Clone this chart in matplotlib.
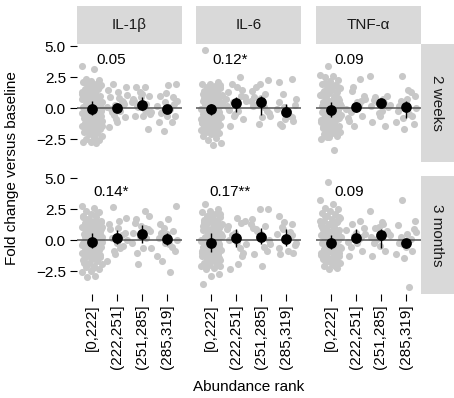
import matplotlib
matplotlib.use("Agg")
import matplotlib.pyplot as plt
import numpy as np

plt.rcParams['font.family'] = ['Liberation Sans', 'DejaVu Sans']

# categories and facets
ranks = ['[0,222]', '(222,251]', '(251,285]', '(285,319]']
cytokines = ['IL-1\u03b2', 'IL-6', 'TNF-\u03b1']
times = ['2 weeks', '3 months']

# correlation labels per panel
corr_2w = ['0.05', '0.12*', '0.09']
corr_3m = ['0.14*', '0.17**', '0.09']

# individual fold changes, 2 weeks
il1_2w = [
    [3.4, 3.2, 2.4, 2.3, 2.2, 2.1, 2.0, 1.9, 1.85, 1.7, 1.6, 1.55, 1.4, 1.3, 1.25, 1.1, 1.0, 0.95, 0.8, 0.7,
     0.65, 0.5, 0.45, 0.35, 0.3, 0.2, 0.1, 0.05, 0.0, -0.05, -0.1, -0.2, -0.3, -0.35, -0.4, -0.5, -0.55, -0.65,
     -0.7, -0.8, -0.9, -0.95, -1.0, -1.1, -1.2, -1.3, -1.35, -1.45, -1.5, -1.6, -1.7, -1.8, -1.9, -2.0, -2.1,
     -2.2, -2.3, -2.45, -2.6, -2.7, -2.75, -2.8, 0.6, -0.6, 1.2, -1.25, 1.95, 1.45, 1.15, 0.85, 0.55, 0.25,
     -0.15, -0.45, -0.75, -1.05, -1.4, -1.75, 2.05, 1.75, 1.35, 0.9, 0.4, 0.0, -0.25, -0.85, -1.15, -1.55,
     -1.95, 0.75, 1.05, -0.35, 0.15, -2.65],
    [2.0, 1.7, 1.35, 0.9, 0.5, 0.3, 0.1, -0.2, -0.3, -0.7, -1.1, -1.5, 0.6, -0.5, 1.1, 0.8, -0.05, 0.35,
     -0.9, 1.5],
    [1.75, 1.75, 1.0, 0.9, 0.75, 0.35, 0.1, -0.3, -0.6, -0.6, -1.65, 1.3, 0.5, -0.1, 0.2, -0.45, 1.15,
     0.6, -0.2],
    [1.95, 1.85, 1.0, 0.9, 0.5, 0.2, -0.05, -0.3, -0.6, -0.6, -1.1, -1.1, -1.8, 0.6, 0.1, -0.4, 0.35, 1.2],
]
il6_2w = [
    [4.75, 2.1, 2.0, 1.95, 1.8, 1.7, 1.65, 1.5, 1.4, 1.35, 1.2, 1.1, 1.05, 0.9, 0.8, 0.75, 0.6, 0.5, 0.45, 0.3,
     0.2, 0.15, 0.05, 0.0, -0.05, -0.15, -0.2, -0.3, -0.4, -0.45, -0.55, -0.6, -0.7, -0.8, -0.85, -0.95, -1.0,
     -1.1, -1.2, -1.25, -1.35, -1.4, -1.5, -1.6, -1.7, -1.75, -1.85, -1.9, -2.0, -2.1, -2.2, -2.4, -2.6, -2.8,
     -2.95, 0.35, -0.35, 1.0, -1.05, 0.65, -0.65, 1.9, 1.55, 1.25, 0.95, 0.7, 0.4, 0.1, -0.1, -0.5, -0.75,
     -1.15, -1.45, -1.8, 1.75, 1.45, 0.85, 0.25, -0.25, -0.9, -1.3, -1.65, 0.55, -0.05, 1.15, -2.05],
    [1.7, 1.3, 1.0, 0.5, 0.6, -0.2, -1.4, -0.85, -0.45, 0.2, 2.5, 2.0, 0.9, 0.3, -0.1, 1.5, -0.6, 0.75],
    [2.3, 2.0, 1.4, 1.15, 0.35, -0.6, -0.7, 0.9, -0.2, -1.25, 0.6, 0.1, 1.7, -0.4, 0.8, 0.2],
    [2.1, 2.35, 1.15, 0.75, -0.2, -1.25, -1.0, -0.85, -0.05, -0.6, -1.4, 0.3, -0.35, 0.5, -0.7, 0.1],
]
tnf_2w = [
    [3.45, 2.7, 2.6, 2.5, 2.3, 2.2, 2.0, 1.9, 1.8, 1.65, 1.5, 1.4, 1.3, 1.2, 1.05, 0.95, 0.85, 0.7, 0.6, 0.5,
     0.4, 0.3, 0.2, 0.1, 0.0, -0.1, -0.2, -0.3, -0.4, -0.5, -0.6, -0.7, -0.8, -0.9, -1.0, -1.1, -1.2, -1.3,
     -1.4, -1.5, -1.6, -1.7, -1.8, -1.9, -2.0, -2.1, -2.2, -2.35, -2.5, -3.4, 0.75, -0.75, 1.6, -1.55, 0.25,
     -0.25, 1.1, -1.05, 2.05, 1.75, 1.45, 1.15, 0.9, 0.65, 0.35, 0.05, -0.15, -0.45, -0.65, -0.95, -1.25,
     -1.65, -1.95, 1.85, 1.25, 0.55, -0.05, -0.55, -0.85, -1.35, 0.8, -0.35, 0.15, 1.0, -2.3],
    [2.35, 1.4, 0.75, 0.5, -1.0, -0.6, -1.4, -0.05, 0.3, -0.3, 1.0, 0.15, -0.8, 0.6, 1.7],
    [2.6, 0.75, 0.9, 0.1, -0.6, -1.1, -1.4, 0.5, 0.3, -0.2, 0.65, 1.0, -0.4, 0.2, 0.45],
    [2.65, 1.0, 0.75, 0.2, -0.6, -1.65, -1.1, -0.45, 0.6, -1.25, 0.4, -0.2, 1.3, -0.8, 0.0, 1.5],
]

# individual fold changes, 3 months
il1_3m = [
    [2.75, 2.6, 2.4, 2.25, 2.1, 2.0, 1.9, 1.75, 1.6, 1.5, 1.4, 1.25, 1.15, 1.05, 0.95, 0.85, 0.75, 0.65, 0.55,
     0.45, 0.35, 0.25, 0.15, 0.05, -0.05, -0.15, -0.25, -0.35, -0.45, -0.55, -0.65, -0.75, -0.85, -0.95, -1.05,
     -1.15, -1.25, -1.35, -1.45, -1.55, -1.7, -1.8, -1.9, -2.05, -2.15, -2.3, -2.45, -2.6, -2.9, -3.0, 0.5,
     -0.5, 1.0, -1.0, 0.1, -0.1, 1.3, -1.3, 0.7, -0.7, 1.85, 1.55, 1.2, 0.9, 0.6, 0.3, 0.0, -0.2, -0.4,
     -0.6, -0.9, -1.2, -1.5, -1.85, 2.2, 1.7, 1.1, 0.4, -0.3, -0.8, -1.1, -1.6, 0.8, -0.05, 1.45, -2.2],
    [2.7, 1.8, 1.0, 0.9, -0.45, -1.1, -1.65, -0.6, 0.2, 0.6, -0.2, 1.3, 0.4, -0.9, 0.0, 1.55],
    [2.35, 1.7, 1.95, 1.15, 0.6, 0.2, -1.95, -0.6, -0.6, 1.4, 0.9, 0.35, -0.2, 1.0, -1.0, 0.75],
    [2.75, 1.75, 1.3, 0.75, -0.2, -1.25, -2.6, -1.65, -0.85, 0.5, 0.2, -0.5, 1.0, 0.0, -0.3, 0.6],
]
il6_3m = [
    [2.9, 2.55, 2.4, 2.3, 2.15, 2.0, 1.9, 1.8, 1.65, 1.55, 1.45, 1.3, 1.2, 1.1, 1.0, 0.9, 0.8, 0.7, 0.6, 0.5,
     0.4, 0.3, 0.2, 0.1, 0.0, -0.1, -0.2, -0.3, -0.4, -0.5, -0.6, -0.7, -0.8, -0.9, -1.0, -1.1, -1.2, -1.3,
     -1.4, -1.5, -1.6, -1.7, -1.8, -1.9, -2.0, -2.1, -2.2, -2.3, -2.75, -2.85, -3.55, 0.45, -0.45, 1.25,
     -1.25, 0.15, -0.15, 0.85, -0.85, 1.6, -1.65, 2.1, 1.75, 1.4, 1.05, 0.75, 0.35, 0.05, -0.25, -0.55,
     -0.75, -1.05, -1.35, -1.75, -2.05, 1.95, 1.5, 0.95, 0.55, -0.05, -0.35, -0.95, -1.45, 0.25, 1.15, -1.15],
    [1.8, 1.15, 1.4, 0.2, -0.3, -1.95, -2.35, -1.0, 0.6, 0.9, -0.6, 0.4, 1.6, -0.1, 0.0, -1.3],
    [2.55, 2.5, 1.7, 1.15, 0.75, -0.3, -2.1, -1.1, -0.85, 0.3, 1.3, -0.5, 0.9, 0.05, 0.5, 1.0],
    [1.95, 1.3, 0.9, -0.2, -0.85, -1.1, -1.0, 0.2, 0.5, 0.7, 1.1, -0.4, 0.0, -0.6, 0.4, 1.5],
]
tnf_3m = [
    [4.7, 3.3, 2.9, 2.6, 2.5, 2.35, 2.2, 2.1, 1.95, 1.8, 1.7, 1.55, 1.45, 1.3, 1.2, 1.1, 0.95, 0.85, 0.75, 0.6,
     0.5, 0.4, 0.3, 0.2, 0.1, 0.0, -0.1, -0.2, -0.3, -0.4, -0.5, -0.6, -0.7, -0.8, -0.9, -1.0, -1.1, -1.2,
     -1.3, -1.4, -1.5, -1.6, -1.7, -1.85, -1.95, -2.05, -2.2, -2.3, 0.45, -0.45, 1.0, -1.05, 0.15, -0.15, 0.7,
     -0.75, 1.6, -1.55, 2.0, 1.65, 1.35, 1.05, 0.8, 0.55, 0.25, -0.05, -0.25, -0.55, -0.85, -1.15, -1.45,
     -1.75, 1.9, 1.4, 0.9, 0.35, -0.35, -0.65, -0.95, -1.25, 0.65, 0.05, 1.15, -2.1],
    [1.55, 1.3, 0.5, -0.2, -1.25, -0.85, 0.35, 0.8, 0.1, -0.5, 1.0, 0.6, -0.1, 0.25],
    [2.35, 1.3, 1.0, 0.6, -0.45, -1.25, -0.85, 0.1, 0.4, 1.5, -0.2, 0.75, 1.1, 0.3],
    [3.3, 1.55, 0.5, -0.2, -0.85, -1.4, -1.1, -3.8, 0.3, 0.9, -0.5, 1.2, 0.1, -0.3, 0.65],
]

# group means with interval ends
mean_2w = [[-0.05, 0.05, 0.25, -0.05], [-0.05, 0.4, 0.53, -0.27], [-0.1, 0.08, 0.4, 0.08]]
lo_2w = [[-0.5, -0.15, -0.15, -0.35], [-0.55, -0.3, -0.5, -0.6], [-0.7, -0.3, 0.1, -0.78]]
hi_2w = [[0.6, 0.25, 0.9, 0.25], [0.35, 0.9, 1.0, 0.35], [0.5, 0.5, 0.75, 0.56]]
mean_3m = [[-0.1, 0.19, 0.53, 0.08], [-0.19, 0.21, 0.27, 0.13], [-0.19, 0.21, 0.45, -0.19]]
lo_3m = [[-0.65, -0.3, -0.24, -0.38], [-0.94, -0.54, -0.3, -0.46], [-0.73, -0.19, -0.6, -0.6]]
hi_3m = [[0.56, 0.83, 1.2, 0.56], [0.56, 0.9, 1.0, 0.9], [0.43, 0.94, 0.9, 0.13]]

points = [[il1_2w, il6_2w, tnf_2w], [il1_3m, il6_3m, tnf_3m]]
means = [mean_2w, mean_3m]
los = [lo_2w, lo_3m]
his = [hi_2w, hi_3m]
corrs = [corr_2w, corr_3m]

W, H = 454, 398
fig = plt.figure(figsize=(W / 100, H / 100), dpi=100)

def px_axes(x0, y0, w, h):
    # axes from pixel box (top-left origin)
    return fig.add_axes([x0 / W, 1 - (y0 + h) / H, w / W, h / H])

col_x = [77, 196.3, 315.5]
row_y = [44, 176]
pw, ph = 105, 117.5
strip_col = '#d9d9d9'
fs = 11

pos = np.arange(1, len(ranks) + 1)
for r in range(2):
    for c in range(3):
        ax = px_axes(col_x[c], row_y[r], pw, ph)
        for g in range(4):
            ys = np.array(points[r][c][g])
            n = len(ys)
            # spread points sideways (deterministic jitter)
            off = ((np.arange(n) * 0.618034 + 0.31 * g + 0.2 * c) % 1 - 0.5) * 0.84
            ax.scatter(pos[g] + off, ys, s=26, color='#c8c8c8', linewidths=0, zorder=1)
        ax.axhline(0, color='#555555', lw=1.1, zorder=2)
        m = np.array(means[r][c])
        ax.vlines(pos, los[r][c], his[r][c], color='black', lw=1.0, zorder=3)
        ax.scatter(pos, m, s=60, color='black', linewidths=0, zorder=4)
        ax.text(1.75, 3.9, corrs[r][c], ha='center', va='center', fontsize=fs)
        ax.set_xlim(0.4, 4.6)
        ax.set_ylim(-4.3, 5.2)
        for sp in ax.spines.values():
            sp.set_visible(False)
        ax.set_yticks([-2.5, 0, 2.5, 5.0])
        ax.set_xticks(pos)
        ax.tick_params(length=5, width=0.8, pad=3, labelsize=fs, colors='black')
        if c == 0:
            ax.set_yticklabels(['\u22122.5', '0.0', '2.5', '5.0'])
        else:
            ax.tick_params(axis='y', left=False, labelleft=False)
        if r == 1:
            ax.set_xticklabels(ranks, rotation=90)
        else:
            ax.tick_params(axis='x', bottom=False, labelbottom=False)

# column strips
for c in range(3):
    sx = px_axes(col_x[c], 6, pw, 38)
    sx.set_facecolor(strip_col)
    sx.set_xticks([])
    sx.set_yticks([])
    for sp in sx.spines.values():
        sp.set_visible(False)
    sx.text(0.5, 0.5, cytokines[c], ha='center', va='center', fontsize=fs, color='#1a1a1a',
            transform=sx.transAxes)

# row strips
for r in range(2):
    sy = px_axes(420.5, row_y[r], 33.5, ph)
    sy.set_facecolor(strip_col)
    sy.set_xticks([])
    sy.set_yticks([])
    for sp in sy.spines.values():
        sp.set_visible(False)
    sy.text(0.5, 0.5, times[r], ha='center', va='center', rotation=270, fontsize=fs, color='#1a1a1a',
            transform=sy.transAxes)

fig.text(12 / W, 1 - 168 / H, 'Fold change versus baseline', rotation=90, ha='center', va='center',
         fontsize=fs)
fig.text(248.5 / W, 1 - 387 / H, 'Abundance rank', ha='center', va='center', fontsize=fs)

fig.savefig('out.png', dpi=100)
